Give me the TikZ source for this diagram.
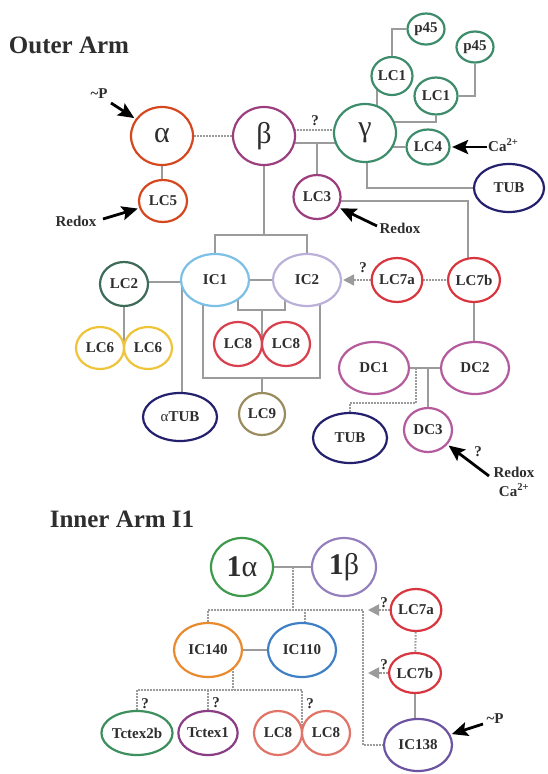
\documentclass[tikz,border=0pt]{standalone}
\usepackage{fontspec}
\setmainfont{Liberation Serif}
\usetikzlibrary{shapes.geometric,arrows.meta,calc,backgrounds}
\definecolor{cRed}{HTML}{D5471F}
\definecolor{cPur}{HTML}{9C3E7E}
\definecolor{cGrn}{HTML}{3D8C6C}
\definecolor{cNavy}{HTML}{24206E}
\definecolor{cICa}{HTML}{7CC0E6}
\definecolor{cICb}{HTML}{BBB0D8}
\definecolor{cLCb}{HTML}{3E6B58}
\definecolor{cLCf}{HTML}{EFC43A}
\definecolor{cLCh}{HTML}{DA3F4E}
\definecolor{cLCi}{HTML}{9A8C5E}
\definecolor{cLCg}{HTML}{D8353F}
\definecolor{cDC}{HTML}{B55A9C}
\definecolor{cOneA}{HTML}{3C9A4A}
\definecolor{cOneB}{HTML}{9580BE}
\definecolor{cICx}{HTML}{E98A2F}
\definecolor{cICy}{HTML}{3F7FC6}
\definecolor{cTcB}{HTML}{3E8F5E}
\definecolor{cTcA}{HTML}{8A3D85}
\definecolor{cLCe}{HTML}{E07468}
\definecolor{cICz}{HTML}{6D54A3}
\definecolor{cLine}{HTML}{9B9B9B}
\definecolor{cTxt}{HTML}{2E2E2E}
\begin{document}
\begin{tikzpicture}[x=1pt,y=-1pt,
  nd/.style={ellipse, draw, line width=2.2pt, fill=white, inner sep=0pt, text=cTxt,
    font=\fontsize{15}{17}\selectfont\bfseries},
  sz/.style 2 args={minimum width=#1pt, minimum height=#2pt},
  big/.style={font=\fontsize{30}{32}\selectfont\mdseries},
  con/.style={draw=cLine, line width=2.4pt},
  dot/.style={draw=cLine, line width=2pt, dash pattern=on 1.6pt off 1.4pt},
  darr/.style={dot, -{Triangle[length=11pt,width=11pt]}},
  barr/.style={draw=black, line width=2.8pt, -{Stealth[length=16pt,width=14pt,inset=3pt]}, shorten >=1.5pt},
  lbl/.style={font=\fontsize{15}{17}\selectfont\bfseries, text=cTxt, inner sep=0pt},
  ttl/.style={font=\fontsize{25}{28}\selectfont\bfseries, text=cTxt, inner sep=0pt}]
\begin{pgfonlayer}{background}
\fill[white] (0,0) rectangle (547,774);
\end{pgfonlayer}
\useasboundingbox (0,0) rectangle (547,774);

% ---------- Outer Arm ----------
\node[ttl] (t1) at (69,45) {Outer Arm};
\node[nd, big, draw=cRed, sz={62}{58}] (a) at (162,136) {α};
\node[nd, draw=cRed, sz={48}{42}] (lc5) at (163,201) {LC5};
\node[nd, big, draw=cPur, sz={62}{58}] (b) at (264,136) {β};
\node[nd, big, draw=cGrn, sz={62}{58}] (g) at (365,133) {γ};
\node[nd, draw=cGrn, sz={41}{38}] (lc1a) at (392,76) {LC1};
\node[nd, draw=cGrn, sz={43}{37}] (lc1b) at (436,96) {LC1};
\node[nd, draw=cGrn, sz={37}{31}] (p45a) at (426,29) {p45};
\node[nd, draw=cGrn, sz={37}{31}] (p45b) at (475,47) {p45};
\node[nd, draw=cGrn, sz={43}{35}] (lc4) at (428,147) {LC4};
\node[nd, draw=cNavy, sz={70}{48}] (tub1) at (509,188) {TUB};
\node[nd, draw=cPur, sz={47}{44}] (lc3) at (317,197) {LC3};
\node[nd, draw=cICa, sz={68}{52}] (ic1) at (215,280) {IC1};
\node[nd, draw=cICb, sz={68}{52}] (ic2) at (307,280) {IC2};
\node[nd, draw=cLCb, sz={48}{44}] (lc2) at (124,284) {LC2};
\node[nd, draw=cLCf, sz={48}{42}] (lc6a) at (100,348) {LC6};
\node[nd, draw=cLCf, sz={48}{42}] (lc6b) at (148,348) {LC6};
\node[nd, draw=cLCh, sz={48}{44}] (lc8a) at (238,344) {LC8};
\node[nd, draw=cLCh, sz={48}{44}] (lc8b) at (286,344) {LC8};
\node[nd, draw=cLCi, sz={46}{42}] (lc9) at (262,414) {LC9};
\node[nd, draw=cNavy, sz={74}{48}] (atub) at (180,417) {{\mdseries α}TUB};
\node[nd, draw=cLCg, sz={48}{44}] (lc7a) at (397,280) {LC7a};
\node[nd, draw=cLCg, sz={50}{44}] (lc7b) at (474,280) {LC7b};
\node[nd, draw=cDC, sz={70}{52}] (dc1) at (374,368) {DC1};
\node[nd, draw=cDC, sz={68}{52}] (dc2) at (475,368) {DC2};
\node[nd, draw=cDC, sz={48}{44}] (dc3) at (428,430) {DC3};
\node[nd, draw=cNavy, sz={74}{50}] (tub2) at (350,438) {TUB};

\node[lbl] (q1) at (315,121) {?};
\node[lbl] (q2) at (363,268) {?};
\node[lbl] (pa) at (99,94) {\textasciitilde P};
\node[lbl] (rx1) at (76,221) {Redox};
\node[lbl, anchor=west] (ca1) at (488,145) {Ca\textsuperscript{2+}};
\node[lbl] (rx2) at (400,228) {Redox};
\node[lbl] (q3) at (478,452) {?};
\node[lbl] (rx3) at (514,472) {Redox};
\node[lbl] (ca2) at (514,490) {Ca\textsuperscript{2+}};

\coordinate (ta1) at (111,103);
\coordinate (ta2) at (103,219);
\coordinate (ta3) at (487,147);
\coordinate (ta4) at (377,226);
\coordinate (ta5) at (489,476);
\coordinate (bj) at (264,235);
\coordinate (j1) at (262,310);
\coordinate (j2) at (262,378);
\coordinate (dj) at (416,368);
\coordinate (bs) at (264,143);
\coordinate (bd) at (264,130);
\coordinate (gl) at (377,133);

\draw[barr] (ta1) -- (a);
\draw[barr] (ta2) -- (lc5);
\draw[barr] (ta3) -- (lc4);
\draw[barr] (ta4) -- (lc3);
\draw[barr] (ta5) -- (dc3);

\begin{pgfonlayer}{background}
\draw[dot] (a) -- (b);
\draw[dot] (bd) -- (bd -| g);
\draw[con] (bs) -- (bs -| g);
\draw[con] (bs -| lc3) -- (lc3);
\draw[con] (a) -- (a |- lc5);
\draw[con] (gl |- lc1a) -- (gl);
\draw[con] (lc1a) |- (p45a);
\draw[con] (lc1b) |- ([yshift=11pt]g.center);
\draw[con] (lc1b) -| (p45b);
\draw[con] (lc4) -- (lc4 -| g);
\draw[con] ([xshift=2pt]g.center) |- (tub1);
\draw[con] ([yshift=-4pt]lc3.center) -| ([xshift=-6pt]lc7b.center);
\draw[con] (b) -- (bj);
\draw[con] (ic1) |- (bj) -| (ic2);
\draw[con] (ic1) -- (ic2);
\draw[con] ([xshift=23pt]ic1.center) |- (j1) -| ([xshift=-22pt]ic2.center);
\draw[con] (j1) -- ($(lc8a.center)!0.5!(lc8b.center)$);
\draw[con] ([xshift=-12pt]ic1.center) |- (j2) -| ([xshift=13pt]ic2.center);
\draw[con] (j2) -- (lc9);
\draw[con] ([yshift=2pt]lc2.center) -- ([yshift=2pt]lc2.center -| ic1.center);
\draw[con] (lc2) -- ($(lc6a.center)!0.5!(lc6b.center)$);
\draw[con] ([xshift=-33pt]ic1.center) -- ([xshift=-33pt]ic1.center |- atub.center);
\draw[darr, shorten >=1pt] (lc7a) -- (ic2);
\draw[dot] (lc7a) -- (lc7b);
\draw[con] (lc7b) -- (lc7b |- dc2);
\draw[con] (dc1) -- (dc2);
\draw[con] (dc3) -- (dc3 |- dc1);
\draw[dot] (dj) -- ++(0,35) -| (tub2);
\end{pgfonlayer}

% ---------- Inner Arm I1 ----------
\node[ttl] (t2) at (122,519) {Inner Arm I1};
\node[nd, big, draw=cOneA, sz={62}{58}] (i1a) at (242,567) {\textbf{1}α};
\node[nd, big, draw=cOneB, sz={64}{58}] (i1b) at (344,567) {\textbf{1}β};
\node[nd, draw=cICx, sz={68}{54}] (ic140) at (208,650) {IC140};
\node[nd, draw=cICy, sz={68}{54}] (ic110) at (302,650) {IC110};
\node[nd, draw=cTcB, sz={58}{44}] (tc2b) at (137,733) {Tctex2b};
\node[nd, draw=cTcA, sz={48}{44}] (tc1) at (208,733) {Tctex1};
\node[nd, draw=cLCe, sz={48}{44}] (ilc8a) at (278,733) {LC8};
\node[nd, draw=cLCe, sz={48}{44}] (ilc8b) at (326,733) {LC8};
\node[nd, draw=cLCg, sz={50}{42}] (ilc7a) at (416,610) {LC7a};
\node[nd, draw=cLCg, sz={50}{40}] (ilc7b) at (415,673) {LC7b};
\node[nd, draw=cICz, sz={68}{52}] (ic138) at (418,745) {IC138};

\node[lbl] (q4) at (145,704) {?};
\node[lbl] (q5) at (216,703) {?};
\node[lbl] (q6) at (310,704) {?};
\node[lbl] (q7) at (384,603) {?};
\node[lbl] (q8) at (384,665) {?};
\node[lbl] (pb) at (495,719) {\textasciitilde P};

\coordinate (ta6) at (483,724);
\coordinate (ij) at (293,567);
\coordinate (ih) at (293,610);
\coordinate (ir) at (363,610);
\coordinate (il) at (233,690);

\draw[barr] (ta6) -- (ic138);

\begin{pgfonlayer}{background}
\draw[con] (i1a) -- (i1b);
\draw[dot] (ij) -- (ih);
\draw[dot] (ic140) |- (ir) -- (ir |- ic138) -- (ic138);
\draw[dot] ([xshift=3pt]ic110.center) -- ([xshift=3pt]ic110.center |- ih);
\draw[con] (ic140) -- (ic110);
\draw[dot] ([xshift=25pt]ic140.center) -- (il);
\draw[dot] (tc2b) |- (il) -| ($(ilc8a.center)!0.5!(ilc8b.center)$);
\draw[dot] (tc1) -- (tc1 |- il);
\draw[darr, shorten >=5pt] (ilc7a) -- (ilc7a -| ir);
\draw[darr, shorten >=5pt] (ilc7b) -- (ilc7b -| ir);
\draw[dot] (ilc7a) -- (ilc7b);
\draw[con] (ilc7b) -- (ilc7b |- ic138);
\end{pgfonlayer}
\end{tikzpicture}
\end{document}
